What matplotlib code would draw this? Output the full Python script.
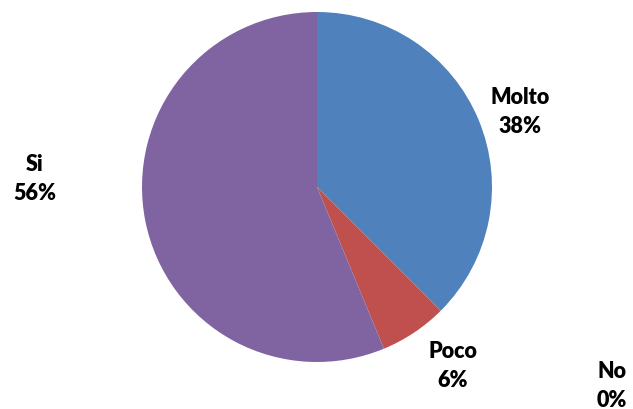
import matplotlib
matplotlib.use("Agg")
import matplotlib.pyplot as plt

categories = ["Molto", "Poco", "No", "Si"]
values = [6, 1, 0, 9]
colors = ["#4F81BD", "#C0504D", "#9BBB59", "#8064A2"]
pct_labels = ["38%", "6%", "0%", "56%"]

W, H = 633, 410
fig = plt.figure(figsize=(W / 100, H / 100), dpi=100)
ax = fig.add_axes([0, 0, 1, 1])

cx, cy, r = 317, H - 188, 175
ax.pie(values, colors=colors, startangle=90, counterclock=False,
       center=(cx, cy), radius=r, frame=True,
       wedgeprops=dict(linewidth=0))
ax.set_xlim(0, W)
ax.set_ylim(0, H)
ax.set_aspect("equal")
ax.axis("off")

label_pos = {"Molto": (520, 112), "Poco": (453, 366), "No": (612, 386), "Si": (35, 179)}
for cat, pct in zip(categories, pct_labels):
    x, y = label_pos[cat]
    ax.text(x, H - y, f"{cat}\n{pct}", ha="center", va="center",
            fontsize=15.5, fontweight="heavy", family=["Lato", "DejaVu Sans"],
            linespacing=1.5, color="black")

fig.savefig("out.png", dpi=100)
